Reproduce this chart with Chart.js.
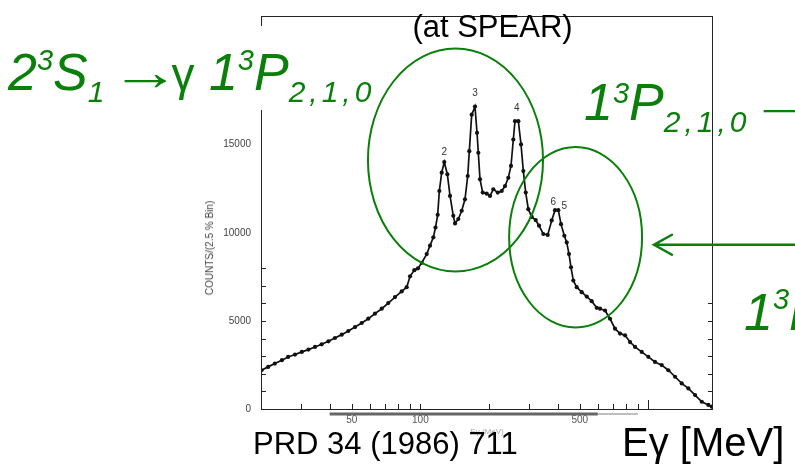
<!DOCTYPE html>
<html>
<head>
<meta charset="utf-8">
<script src="https://cdn.jsdelivr.net/npm/chart.js@4.4.1/dist/chart.umd.min.js"></script>
<style>
  html, body { margin:0; padding:0; background:#fff; }
  body { width:795px; height:476px; overflow:hidden; position:relative; font-family:"Liberation Sans", Arial, sans-serif; }
  #c { position:absolute; left:0; top:0; }
  .lbl { position:absolute; white-space:nowrap; line-height:1; }
  .green { color:#0a7f0a; font-style:italic; font-size:52px; }
  .sup { font-size:29px; position:relative; }
  .sub { font-size:30px; position:relative; letter-spacing:4px; }
  .up { font-style:normal; }
  .arr { font-style:normal; display:inline-block; transform:scaleX(1.35); transform-origin:0 50%; }
</style>
</head>
<body>
<canvas id="c" width="795" height="476"></canvas>

<div class="lbl" style="left:0; top:26px; width:372px; height:84px; background:#fff;"></div>
<div class="lbl green" style="left:8px; top:46px;">2<span class="sup" style="top:-20px;">3</span>S<span class="sub" style="top:12px; letter-spacing:0;">1</span><span class="arr" style="margin-left:6px; margin-right:9px;">→</span><span class="up" style="font-size:46px;">γ</span> 1<span class="sup" style="top:-20px;">3</span>P<span class="sub" style="top:12px;">2,1,0</span></div>
<div class="lbl green" style="left:584px; top:76px;">1<span class="sup" style="top:-17px;">3</span>P<span class="sub" style="top:12px;">2,1,0</span><span class="arr" style="margin-left:-8px; transform:scaleX(2);">→</span></div>
<div class="lbl green" style="left:744px; top:286px;">1<span class="sup" style="top:-21px;">3</span>P</div>

<div class="lbl" style="left:492.5px; top:10.8px; font-size:31px; color:#000; transform:translateX(-50%);">(at SPEAR)</div>
<div class="lbl" style="left:253px; top:427.8px; font-size:31px; color:#000;">PRD 34 (1986) 711</div>
<div class="lbl" style="left:622px; top:422.1px; font-size:40px; color:#000;">Eγ [MeV]</div>
<div class="lbl" style="left:210px; top:248px; font-size:10px; color:#444; transform:translate(-50%,-50%) rotate(-90deg);">COUNTS/(2.5 % Bin)</div>

<script>
// ---- data ----
const energies = [20.1,21.5,23.0,24.7,26.3,28.2,30.2,32.3,34.5,36.9,
  39.5,42.2,45.2,48.3,51.7,55.3,59.1,63.2,67.7,72.3,
  77.4,82.8,87.1,90.1,94.1,97.6,101.4,106.6,110.2,114.0,
  116.5,119.1,121.1,124.0,127.3,131.3,134.9,139.4,141.9,146.7,
  151.8,156.9,161.3,163.9,167.9,173.6,177.2,179.5,182.6,187.7,
  195.4,202.0,208.9,218.4,227.3,235.1,243.0,249.7,255.6,260.0,
  268.9,276.3,282.8,289.7,297.4,307.8,320.5,331.4,346.1,361.8,
  376.7,389.5,402.6,413.8,427.9,438.3,448.6,457.7,468.5,484.8,
  510.0,536.4,564.2,593.5,613.6,645.4,678.8,713.9,751.0,789.9,
  830.8,873.9,934.9,999.2,1069,1144,1223,1309,1400,1497,
  1602,1714,1832,1896];
const counts = [2200,2390,2580,2770,2955,3090,3240,3370,3520,3670,
  3840,4030,4220,4425,4650,4880,5125,5410,5690,6010,
  6350,6670,6910,7530,7880,7980,8300,8790,9270,9740,
  10300,11020,12370,13410,14010,13320,12090,10960,10530,10780,
  11250,11900,13220,14630,16700,17160,15670,14540,13030,12280,
  12220,12090,12470,12280,12370,12650,13120,13790,15290,16330,
  16330,15010,13500,12280,11340,10900,10720,10400,9930,9880,
  10700,11280,11280,10490,9830,9450,8790,8040,7290,6910,
  6630,6380,6120,5740,5690,5590,5120,4560,4280,4180,
  3800,3520,3240,2960,2670,2490,2200,1830,1450,1170,
  790,410,230,130];
const xTickLabels = [50, 100, 500];
const yTickLabels = [0, 5000, 10000, 15000];
const xMinorTicks = [30,40,50,60,70,80,90,100,200,300,400,500,600,700,800,900,1000];
const yLeftTicks = [0,1000,2000,3000,4000,5000,6000,7000,8000];
const yRightTicks = [0,1000,2000,3000,4000,5000,6000];
const peakLabelText = ['2','3','4','6','5'];
const peakLabelE = [127.3, 173.6, 264.6, 382.9, 427.9];
const peakLabelCounts = [14576, 17927, 17079, 11712, 11525];
// highlighted regions (energy range, count range)
const ellipseE = [[58.9, 345], [245, 938]];
const ellipseCounts = [[7800, 20450], [4630, 14860]];
const arrowTipE = 1058, arrowTipCounts = 9320;

const GREEN = '#0a7f0a';

const decor = {
  id: 'decor',
  afterDatasetsDraw(chart) {
    const ctx = chart.ctx, a = chart.chartArea;
    const xs = chart.scales.x, ys = chart.scales.y;
    ctx.save();
    // frame
    ctx.strokeStyle = '#222'; ctx.lineWidth = 1;
    ctx.strokeRect(Math.round(a.left) + 0.5, Math.round(a.top) + 0.5,
                   Math.round(a.right - a.left) - 1, Math.round(a.bottom - a.top));
    // inward tick marks
    ctx.beginPath();
    yLeftTicks.forEach(v => { const y = Math.round(ys.getPixelForValue(v)) + 0.5; ctx.moveTo(a.left, y); ctx.lineTo(a.left + 5, y); });
    yRightTicks.forEach(v => { const y = Math.round(ys.getPixelForValue(v)) + 0.5; ctx.moveTo(a.right, y); ctx.lineTo(a.right - 5, y); });
    xMinorTicks.forEach(v => { const x = Math.round(xs.getPixelForValue(v)) + 0.5; ctx.moveTo(x, a.bottom); ctx.lineTo(x, a.bottom - (v === 1000 ? 9 : 5)); });
    ctx.stroke();
    // scanned double axis bar under the energy axis
    ctx.strokeStyle = '#666'; ctx.lineWidth = 3;
    ctx.beginPath(); ctx.moveTo(xs.getPixelForValue(40), a.bottom + 5); ctx.lineTo(xs.getPixelForValue(600), a.bottom + 5); ctx.stroke();
    ctx.strokeStyle = '#aaa'; ctx.lineWidth = 1.5;
    ctx.beginPath(); ctx.moveTo(xs.getPixelForValue(600), a.bottom + 5); ctx.lineTo(xs.getPixelForValue(900), a.bottom + 5); ctx.stroke();
    // peak labels
    ctx.fillStyle = '#333'; ctx.font = '10px "Liberation Sans", Arial, sans-serif';
    ctx.textAlign = 'center'; ctx.textBaseline = 'middle';
    peakLabelText.forEach((t, i) => ctx.fillText(t, xs.getPixelForValue(peakLabelE[i]), ys.getPixelForValue(peakLabelCounts[i])));
    // ellipses
    ctx.strokeStyle = GREEN; ctx.lineWidth = 2;
    ellipseE.forEach((er, i) => {
      const x0 = xs.getPixelForValue(er[0]), x1 = xs.getPixelForValue(er[1]);
      const y0 = ys.getPixelForValue(ellipseCounts[i][1]), y1 = ys.getPixelForValue(ellipseCounts[i][0]);
      ctx.beginPath();
      ctx.ellipse((x0 + x1) / 2, (y0 + y1) / 2, (x1 - x0) / 2, (y1 - y0) / 2, 0, 0, Math.PI * 2);
      ctx.stroke();
    });
    // arrow pointing at the second region
    const tx = xs.getPixelForValue(arrowTipE), ty = ys.getPixelForValue(arrowTipCounts);
    ctx.lineWidth = 2.5; ctx.lineCap = 'round';
    ctx.beginPath();
    ctx.moveTo(chart.width + 2, ty); ctx.lineTo(tx, ty);
    ctx.moveTo(tx + 18, ty - 10); ctx.lineTo(tx, ty); ctx.lineTo(tx + 18, ty + 10);
    ctx.stroke();
    ctx.restore();
  }
};

new Chart(document.getElementById('c'), {
  type: 'line',
  data: {
    datasets: [{
      data: energies.map((e, i) => ({ x: e, y: counts[i] })),
      borderColor: '#111', borderWidth: 1.7,
      pointRadius: 2.1, pointBackgroundColor: '#111', pointBorderWidth: 0,
      tension: 0
    }]
  },
  options: {
    responsive: false, animation: false,
    layout: { padding: { top: 14, right: 82, left: 0, bottom: 0 } },
    plugins: { legend: { display: false }, tooltip: { enabled: false } },
    scales: {
      x: {
        type: 'logarithmic', min: 20, max: 1920,
        afterBuildTicks: s => { s.ticks = xTickLabels.map(v => ({ value: v })); },
        afterFit: s => { s.height = 67; },
        ticks: { callback: v => String(v), font: { size: 10 }, color: '#555', padding: 5, autoSkip: false, maxRotation: 0 },
        grid: { display: false, drawTicks: false },
        border: { display: false },
        title: { display: true, text: 'Eγ (MeV)', font: { size: 8 }, color: '#aaa', padding: { top: 0, bottom: 39 } }
      },
      y: {
        min: 0, max: 22300,
        afterBuildTicks: s => { s.ticks = yTickLabels.map(v => ({ value: v })); },
        afterFit: s => { s.width = 261; },
        ticks: { callback: v => String(v), font: { size: 10 }, color: '#444', padding: 10 },
        grid: { display: false, drawTicks: false },
        border: { display: false }
      }
    }
  },
  plugins: [decor]
});
</script>
</body>
</html>
